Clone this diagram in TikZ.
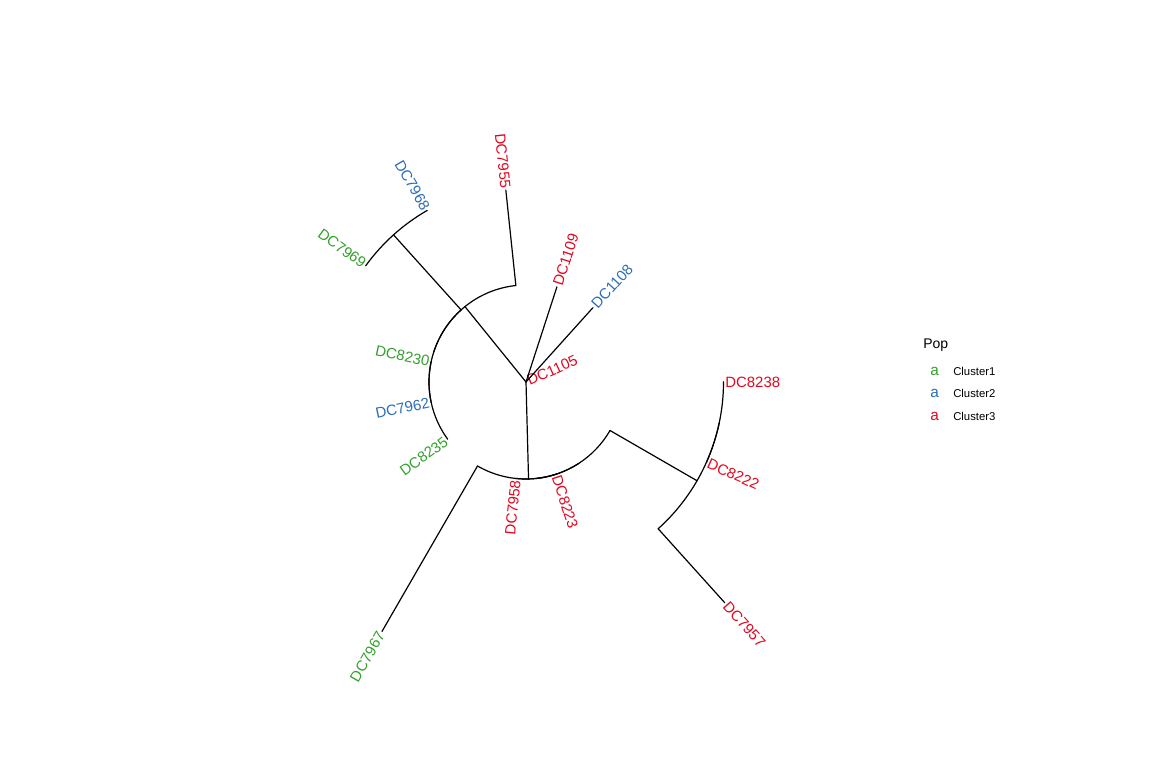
\documentclass[tikz,border=0pt]{standalone}
\usepackage{fontspec}
\setmainfont{Liberation Sans}
\usetikzlibrary{positioning}
\definecolor{cG}{HTML}{33A02C}
\definecolor{cB}{HTML}{2B6DB5}
\definecolor{cR}{HTML}{E3061F}
\tikzset{
  branch/.style={line width=.9pt,black,line cap=round},
  tiplab/.style={inner sep=1.2pt,font=\fontsize{11.2}{13}\selectfont},
  keyglyph/.style={inner sep=0pt,font=\fontsize{11.5}{13}\selectfont},
  keylab/.style={inner sep=0pt,anchor=west,font=\fontsize{8.5}{10}\selectfont},
}
\newcommand\treearc[3]{\draw[branch] (#1:#3) arc[start angle=#1,end angle=#2,radius=#3];}

\begin{document}
\begin{tikzpicture}[x=.75pt,y=.75pt]
  \useasboundingbox (0,0) rectangle (1152,768);
  \begin{scope}[shift={(526,386)}]
  % inner nodes of the circular tree
  \coordinate (root) at (0,0);
  \coordinate (n1) at (129:97);
  \coordinate (b2) at (132:97);
  \coordinate (n2) at (132:198);
  \coordinate (n3) at (271.5:97);
  \coordinate (b5) at (330:97);
  \coordinate (n5) at (330:197.5);
  \draw[branch] (root) -- (n1);
  \draw[branch] (root) -- (n3);
  \draw[branch] (b2) -- (n2);
  \draw[branch] (b5) -- (n5);
  \treearc{96}{162}{97}
  \treearc{132}{192}{97}
  \treearc{168}{216}{97}
  \treearc{120}{144}{198}
  \treearc{240}{303}{97}
  \treearc{276}{330}{97}
  \treearc{264}{288}{97}
  \treearc{312}{348}{197.5}
  \treearc{336}{360}{197.5}
  % tips, right half
  \foreach \name/\ang/\pr/\rad/\col in {DC1105/24/0/0/cR,DC1108/48/0/100/cB,
      DC1109/72/0/100/cR,DC8223/288/97/97/cR,DC7957/312/197.5/297/cR,
      DC8222/336/197.5/197.5/cR,DC8238/360/197.5/197.5/cR}{
    \coordinate (b\name) at (\ang:\pr);
    \coordinate (t\name) at (\ang:\rad);
    \draw[branch] (b\name) -- (t\name);
    \node[tiplab,text=\col,rotate=\ang,anchor=west] (l\name) at (t\name) {\name};
  }
  % tips, left half
  \foreach \name/\ang/\pr/\rad/\col in {DC7955/96/97/193/cR,DC7968/120/198/198/cB,
      DC7969/144/198/198/cG,DC8230/168/97/97/cG,DC7962/192/97/97/cB,
      DC8235/216/97/97/cG,DC7967/240/97/288/cG,DC7958/264/97/97/cR}{
    \coordinate (b\name) at (\ang:\pr);
    \coordinate (t\name) at (\ang:\rad);
    \draw[branch] (b\name) -- (t\name);
    \node[tiplab,text=\col,rotate=\ang+180,anchor=east] (l\name) at (t\name) {\name};
  }
  \end{scope}
  % legend
  \node[inner sep=0pt,anchor=west,font=\fontsize{10.5}{12}\selectfont] (pop) at (923,423) {Pop};
  \foreach \k/\col/\yy in {1/cG/396.3,2/cB/375,3/cR/351.3}{
    \node[keyglyph,text=\col] (key\k) at (934.5,\yy) {a};
    \node[keylab] (clu\k) at (953,\yy) {Cluster\k};
  }
\end{tikzpicture}
\end{document}
